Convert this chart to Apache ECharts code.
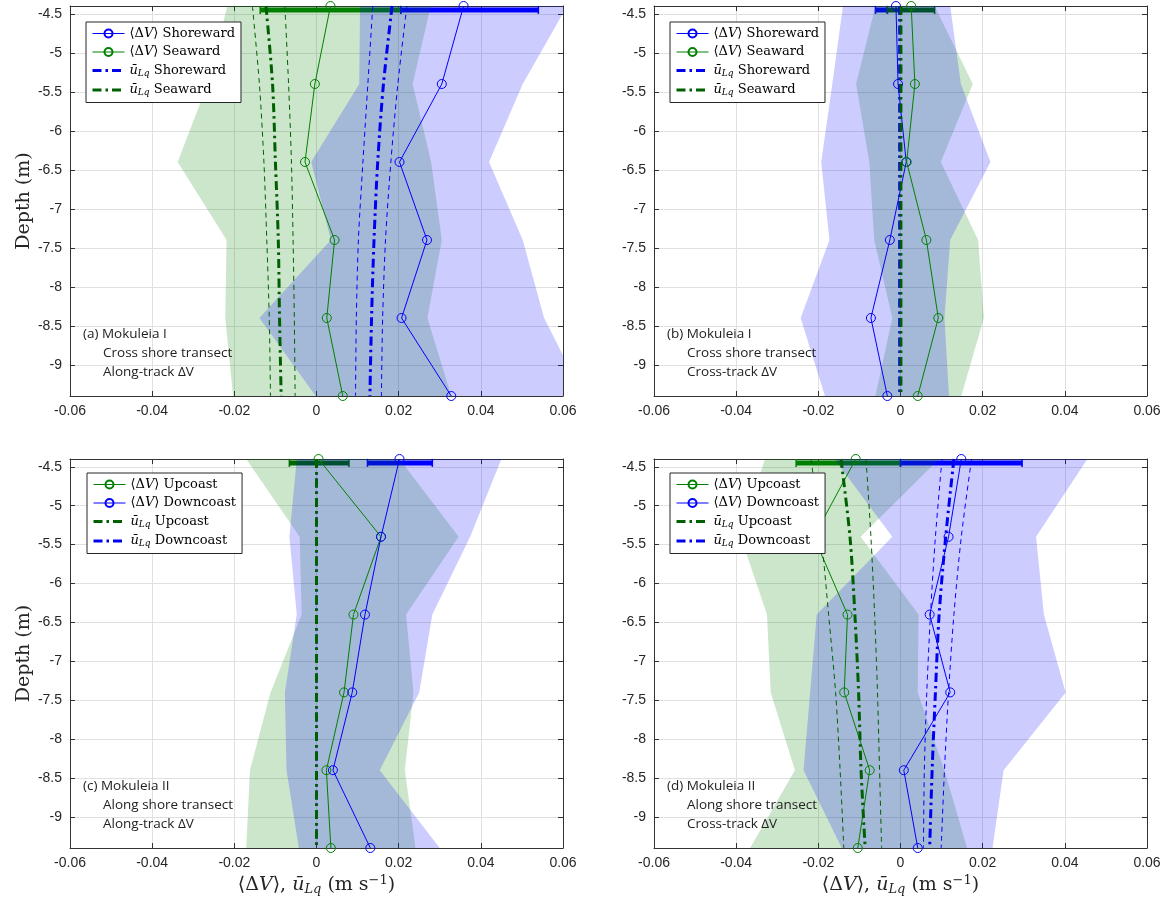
<!DOCTYPE html>
<html><head><meta charset="utf-8">
<script src="https://cdn.jsdelivr.net/npm/echarts@6/dist/echarts.min.js"></script>
<style>html,body{margin:0;padding:0;background:#fff}#c{width:1167px;height:900px}</style>
</head><body><div id="c"></div>
<script>
// ---------- data ----------
const depths = [-4.4, -5.4, -6.4, -7.4, -8.4, -9.4];
const yTickValues = [-9, -8.5, -8, -7.5, -7, -6.5, -6, -5.5, -5, -4.5];
const barDepth = -4.45;

// (a) Mokuleia I, cross shore, along-track
const a_dvShore = [0.0358, 0.0305, 0.0202, 0.0269, 0.0207, 0.0328];
const a_dvSea   = [0.0034, -0.0004, -0.0028, 0.0044, 0.0025, 0.0064];
const a_shoreLo = [0.0106, 0.0104, -0.0013, 0.0035, -0.0139, -0.0002];
const a_shoreHi = [0.0610, 0.0502, 0.0420, 0.0502, 0.0554, 0.0650];
const a_seaLo   = [-0.0217, -0.0265, -0.0338, -0.0219, -0.0222, -0.0203];
const a_seaHi   = [0.0278, 0.0234, 0.0279, 0.0305, 0.0270, 0.0328];
const a_uShore   = [0.0184, 0.0163, 0.0149, 0.0140, 0.0134, 0.0130];
const a_uShoreLo = [0.0137, 0.0125, 0.0113, 0.0102, 0.0097, 0.0095];
const a_uShoreHi = [0.0220, 0.0198, 0.0181, 0.0168, 0.0161, 0.0158];
const a_uSea     = [-0.0123, -0.0107, -0.0100, -0.0093, -0.0090, -0.0086];
const a_uSeaLo   = [-0.0156, -0.0139, -0.0128, -0.0121, -0.0115, -0.0112];
const a_uSeaHi   = [-0.0077, -0.0068, -0.0061, -0.0057, -0.0054, -0.0052];
const a_barSea   = [-0.0137, 0.0205];
const a_barShore = [0.0205, 0.0540];

// (b) Mokuleia I, cross shore, cross-track
const b_dvShore = [-0.0011, -0.0006, 0.0014, -0.0026, -0.0072, -0.0032];
const b_dvSea   = [0.0026, 0.0035, 0.0015, 0.0063, 0.0092, 0.0042];
const b_shoreLo = [-0.0140, -0.0166, -0.0193, -0.0173, -0.0243, -0.0184];
const b_shoreHi = [0.0121, 0.0147, 0.0219, 0.0121, 0.0107, 0.0118];
const b_seaLo   = [-0.0061, -0.0108, -0.0076, -0.0064, -0.0020, -0.0061];
const b_seaHi   = [0.0083, 0.0176, 0.0098, 0.0189, 0.0203, 0.0148];
const b_uShore  = [-0.0002, -0.0002, -0.0002, -0.0002, -0.0002, -0.0002];
const b_uSea    = [0.0001, 0.0001, 0.0001, 0.0001, 0.0001, 0.0001];
const b_barShore = [-0.0061, -0.0032];
const b_barSea   = [-0.0032, 0.0083];

// (c) Mokuleia II, along shore, along-track
const c_dvUp    = [0.0005, 0.0157, 0.0090, 0.0067, 0.0024, 0.0035];
const c_dvDown  = [0.0202, 0.0157, 0.0118, 0.0087, 0.0040, 0.0131];
const c_upLo    = [-0.0171, -0.0041, -0.0036, -0.0112, -0.0162, -0.0171];
const c_upHi    = [0.0202, 0.0346, 0.0218, 0.0236, 0.0215, 0.0241];
const c_downLo  = [-0.0048, -0.0066, -0.0048, -0.0077, -0.0073, -0.0043];
const c_downHi  = [0.0450, 0.0374, 0.0282, 0.0250, 0.0154, 0.0300];
const c_uUp     = [0.0000, 0.0000, 0.0000, 0.0000, 0.0000, 0.0000];
const c_uDown   = [0.0000, 0.0000, 0.0000, 0.0000, 0.0000, 0.0000];
const c_barUp   = [-0.0066, 0.0079];
const c_barDown = [0.0124, 0.0282];

// (d) Mokuleia II, along shore, cross-track
const d_dvUp    = [-0.0109, -0.0211, -0.0129, -0.0137, -0.0075, -0.0104];
const d_dvDown  = [0.0148, 0.0117, 0.0071, 0.0121, 0.0008, 0.0042];
const d_upLo    = [-0.0330, -0.0389, -0.0325, -0.0316, -0.0257, -0.0366];
const d_upHi    = [0.0094, -0.0097, 0.0044, 0.0042, 0.0107, 0.0162];
const d_downLo  = [-0.0161, -0.0020, -0.0204, -0.0220, -0.0236, -0.0143];
const d_downHi  = [0.0455, 0.0330, 0.0349, 0.0402, 0.0251, 0.0224];
const d_uUp     = [-0.0145, -0.0123, -0.0111, -0.0102, -0.0096, -0.0086];
const d_uUpLo   = [-0.0218, -0.0193, -0.0175, -0.0158, -0.0147, -0.0138];
const d_uUpHi   = [-0.0084, -0.0072, -0.0063, -0.0056, -0.0051, -0.0046];
const d_uDown   = [0.0130, 0.0110, 0.0094, 0.0085, 0.0077, 0.0071];
const d_uDownLo = [0.0101, 0.0085, 0.0073, 0.0064, 0.0058, 0.0056];
const d_uDownHi = [0.0173, 0.0148, 0.0130, 0.0117, 0.0107, 0.0099];
const d_barUp   = [-0.0254, 0.0000];
const d_barDown = [0.0000, 0.0296];

const panelNotes = [
  ['(a) Mokuleia I', 'Cross shore transect', 'Along-track ΔV'],
  ['(b) Mokuleia I', 'Cross shore transect', 'Cross-track ΔV'],
  ['(c) Mokuleia II', 'Along shore transect', 'Along-track ΔV'],
  ['(d) Mokuleia II', 'Along shore transect', 'Cross-track ΔV']
];

// ---------- styling ----------
const BLUE = '#0000ff', GREEN = '#008000', DGREEN = '#005f00', UBLUE = '#0000f0';
const FILL_B = 'rgba(0,0,255,0.2)', FILL_G = 'rgba(0,128,0,0.2)';
const AX = '#333333';
const SERIF = 'DejaVu Serif';
const DASHDOT = [9, 4, 2.5, 4];
const grids = [
  {left: 70, top: 6, width: 493, height: 390},
  {left: 654, top: 6, width: 493, height: 390},
  {left: 70, top: 459, width: 493, height: 389},
  {left: 654, top: 459, width: 493, height: 389}
];

const pts = xs => xs.map((x, i) => [x, depths[i]]);
const series = [];
const legendNames = [[], [], [], []];
const legendText = {};

function bar(g, r, color) {
  series.push({type: 'line', xAxisIndex: g, yAxisIndex: g, data: [[r[0], barDepth], [r[1], barDepth]],
    symbol: 'rect', symbolSize: [1.5, 8], lineStyle: {color: color, width: 5}, itemStyle: {color: color},
    z: 1, silent: true, animation: false});
}
function band(g, lo, hi, fill) {
  series.push({type: 'custom', xAxisIndex: g, yAxisIndex: g, clip: true, silent: true, z: 2, animation: false,
    data: [[lo[0], depths[0]]],
    renderItem: function (params, api) {
      const p = [];
      for (let i = 0; i < depths.length; i++) p.push(api.coord([lo[i], depths[i]]));
      for (let i = depths.length - 1; i >= 0; i--) p.push(api.coord([hi[i], depths[i]]));
      return {type: 'polygon', shape: {points: p}, style: {fill: fill}};
    }});
}
function dv(g, vals, color, label) {
  const name = 'p' + g + ' dv ' + label;
  legendNames[g].push(name);
  legendText[name] = '{t|⟨Δ}{i|V}{t|⟩ ' + label + '}';
  series.push({type: 'line', name: name, xAxisIndex: g, yAxisIndex: g, data: pts(vals),
    symbol: 'circle', symbolSize: 9, showSymbol: true,
    lineStyle: {color: color, width: 1},
    itemStyle: {color: 'rgba(255,255,255,0)', borderColor: color, borderWidth: 1},
    z: 5, animation: false, silent: true});
}
function uLine(g, vals, color, label, smooth) {
  const name = 'p' + g + ' u ' + label;
  legendNames[g].push(name);
  legendText[name] = '{i|ū}{sub|Lq}{t| ' + label + '}';
  series.push({type: 'line', name: name, xAxisIndex: g, yAxisIndex: g, data: pts(vals),
    symbol: 'circle', showSymbol: false, smooth: smooth === false ? false : 0.3,
    lineStyle: {color: color, width: 3, type: DASHDOT},
    itemStyle: {color: 'rgba(0,0,0,0)', borderWidth: 0}, z: 6, animation: false, silent: true});
}
function uBound(g, vals, color) {
  series.push({type: 'line', xAxisIndex: g, yAxisIndex: g, data: pts(vals),
    symbol: 'none', smooth: 0.3, lineStyle: {color: color, width: 1, type: [5, 4]},
    z: 6, animation: false, silent: true});
}

// panel a
bar(0, a_barSea, GREEN); bar(0, a_barShore, BLUE);
band(0, a_seaLo, a_seaHi, FILL_G); band(0, a_shoreLo, a_shoreHi, FILL_B);
uBound(0, a_uSeaLo, DGREEN); uBound(0, a_uSeaHi, DGREEN);
uBound(0, a_uShoreLo, BLUE); uBound(0, a_uShoreHi, BLUE);
dv(0, a_dvShore, BLUE, 'Shoreward'); dv(0, a_dvSea, GREEN, 'Seaward');
uLine(0, a_uShore, UBLUE, 'Shoreward'); uLine(0, a_uSea, DGREEN, 'Seaward');
// panel b
bar(1, b_barShore, BLUE); bar(1, b_barSea, DGREEN);
band(1, b_seaLo, b_seaHi, FILL_G); band(1, b_shoreLo, b_shoreHi, FILL_B);
dv(1, b_dvShore, BLUE, 'Shoreward'); dv(1, b_dvSea, GREEN, 'Seaward');
uLine(1, b_uShore, UBLUE, 'Shoreward', false); uLine(1, b_uSea, DGREEN, 'Seaward', false);
// panel c
bar(2, c_barUp, DGREEN); bar(2, c_barDown, BLUE);
band(2, c_upLo, c_upHi, FILL_G); band(2, c_downLo, c_downHi, FILL_B);
dv(2, c_dvUp, GREEN, 'Upcoast'); dv(2, c_dvDown, BLUE, 'Downcoast');
uLine(2, c_uDown, UBLUE, 'Downcoast', false); uLine(2, c_uUp, DGREEN, 'Upcoast', false);
legendNames[2] = ['p2 dv Upcoast', 'p2 dv Downcoast', 'p2 u Upcoast', 'p2 u Downcoast'];
// panel d
bar(3, d_barUp, GREEN); bar(3, d_barDown, BLUE);
band(3, d_upLo, d_upHi, FILL_G); band(3, d_downLo, d_downHi, FILL_B);
uBound(3, d_uUpLo, DGREEN); uBound(3, d_uUpHi, DGREEN);
uBound(3, d_uDownLo, BLUE); uBound(3, d_uDownHi, BLUE);
dv(3, d_dvUp, GREEN, 'Upcoast'); dv(3, d_dvDown, BLUE, 'Downcoast');
uLine(3, d_uUp, DGREEN, 'Upcoast'); uLine(3, d_uDown, UBLUE, 'Downcoast');

// ---------- axes ----------
const tickLab = {fontFamily: '"Liberation Sans", Arial, sans-serif', fontSize: 14, color: '#262626'};
const xTitle = '{t|⟨Δ}{i|V}{t|⟩, }{i|ū}{sub|Lq}{t| (m s}{sup|−1}{t|)}';
const richT = {
  t: {fontFamily: SERIF, fontSize: 19, color: '#262626'},
  i: {fontFamily: SERIF, fontSize: 19, fontStyle: 'italic', color: '#262626'},
  sub: {fontFamily: SERIF, fontSize: 13, fontStyle: 'italic', color: '#262626', padding: [9, 0, 0, 0]},
  sup: {fontFamily: SERIF, fontSize: 13, color: '#262626', padding: [0, 0, 10, 0]}
};
const xAxes = [], yAxes = [];
for (let g = 0; g < 4; g++) {
  xAxes.push({type: 'value', gridIndex: g, min: -0.06, max: 0.06, interval: 0.02, position: 'bottom',
    axisLine: {show: true, onZero: false, lineStyle: {color: AX, width: 1}},
    axisTick: {show: true, inside: true, length: 5, lineStyle: {color: AX}},
    axisLabel: Object.assign({margin: 8}, tickLab),
    splitLine: {show: true, lineStyle: {color: '#e0e0e0', width: 1}},
    name: g >= 2 ? xTitle : '', nameLocation: 'middle', nameGap: 26,
    nameTextStyle: {rich: richT}});
  yAxes.push({type: 'value', gridIndex: g, min: -9.4, max: -4.4, position: 'left',
    axisLine: {show: true, onZero: false, lineStyle: {color: AX, width: 1}},
    axisTick: {show: true, inside: true, length: 5, lineStyle: {color: AX}, customValues: yTickValues},
    axisLabel: Object.assign({margin: 8, customValues: yTickValues}, tickLab),
    splitLine: {show: true, lineStyle: {color: '#e0e0e0', width: 1}},
    name: (g % 2 === 0) ? 'Depth (m)' : '', nameLocation: 'middle', nameGap: 35,
    nameTextStyle: {fontFamily: SERIF, fontSize: 19, color: '#262626'}});
}
for (let g = 0; g < 4; g++) {
  xAxes.push({type: 'value', gridIndex: g, min: -0.06, max: 0.06, interval: 0.02, position: 'top',
    axisLine: {show: true, onZero: false, lineStyle: {color: AX, width: 1}},
    axisTick: {show: true, inside: true, length: 5, lineStyle: {color: AX}},
    axisLabel: {show: false}, splitLine: {show: false}});
  yAxes.push({type: 'value', gridIndex: g, min: -9.4, max: -4.4, position: 'right',
    axisLine: {show: true, onZero: false, lineStyle: {color: AX, width: 1}},
    axisTick: {show: true, inside: true, length: 5, lineStyle: {color: AX}, customValues: yTickValues},
    axisLabel: {show: false, customValues: yTickValues}, splitLine: {show: false}});
}

// ---------- legends ----------
const legRich = {
  t: {fontFamily: SERIF, fontSize: 13, color: '#000', lineHeight: 15},
  i: {fontFamily: SERIF, fontSize: 13, fontStyle: 'italic', color: '#000', lineHeight: 15},
  sub: {fontFamily: SERIF, fontSize: 9, fontStyle: 'italic', color: '#000', padding: [6, 0, 0, 0]}
};
const legPos = [[86, 22], [670, 22], [87, 473], [670, 473]];
const legends = legPos.map((p, g) => ({
  orient: 'vertical', left: p[0], top: p[1], data: legendNames[g], selectedMode: false,
  itemWidth: 32, itemHeight: 10, itemGap: 5.5, padding: [5, 6, 5, 5],
  lineStyle: {width: 'inherit'},
  backgroundColor: '#fff', borderColor: '#262626', borderWidth: 1, borderRadius: 0,
  formatter: n => legendText[n], textStyle: {rich: legRich}, z: 20
}));

// ---------- annotations ----------
const notePos = [[83, 333], [667, 333], [83, 785], [667, 785]];
const graphic = [];
panelNotes.forEach((lines, g) => {
  lines.forEach((txt, k) => {
    graphic.push({type: 'text', left: notePos[g][0] + (k ? 20 : 0), top: notePos[g][1] + k * 19 - 6, z: 50,
      style: {text: txt, font: '13.5px "Open Sans"', fill: '#222'}});
  });
});

const chart = echarts.init(document.getElementById('c'), null, {renderer: 'canvas'});
chart.setOption({
  animation: false,
  grid: grids.map(g => Object.assign({containLabel: false, outerBoundsMode: 'none'}, g)),
  xAxis: xAxes, yAxis: yAxes, legend: legends, series: series, graphic: graphic
});
</script></body></html>
